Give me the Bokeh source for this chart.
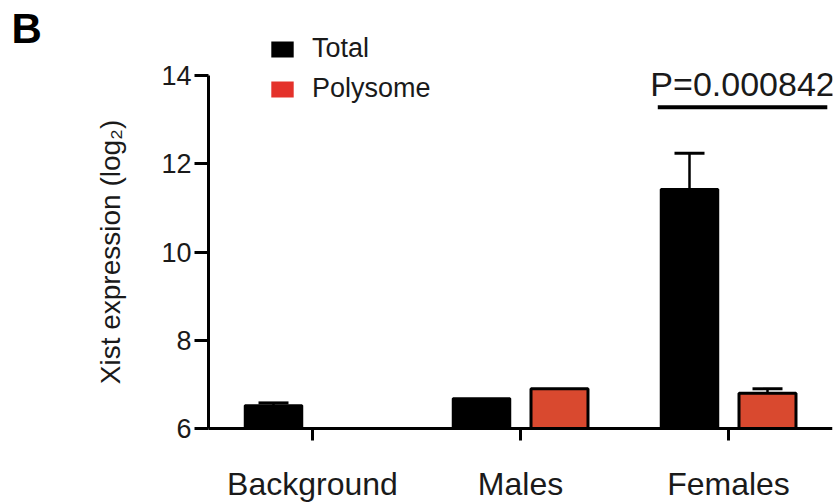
import math
from bokeh.plotting import figure
from bokeh.models import (ColumnDataSource, Range1d, FixedTicker,
                          Whisker, TeeHead, Legend, LegendItem, Label)
from bokeh.core.properties import value
from bokeh.transform import dodge
from bokeh.embed import file_html
from bokeh.resources import INLINE

# ---- data ----
categories = ["Background", "Males", "Females"]
series_names = ["Total", "Polysome"]
total_mean = [6.52, 6.68, 11.42]
total_err = [0.06, 0.0, 0.82]
polysome_mean = [float("nan"), 6.90, 6.80]
polysome_err = [float("nan"), 0.0, 0.10]
y_ticks = [6, 8, 10, 12, 14]
y_axis_title = "Xist expression (log\u2082)"
panel_letter = "B"
p_value_text = "P=0.000842"
p_value_y = 13.28
p_value_category = "Females"

# ---- styling / layout ----
FONT = "Liberation Sans"
TEXT = "#1a1a1a"
TOTAL_COLOR = "#000000"
POLY_COLOR = "#d9492f"
POLY_LEGEND = "#e4322b"
OFFSET = 0.1875
BAR_W = 0.274
Y_MIN, Y_MAX = 6, 14
X_MIN, X_MAX = -0.5, len(categories) - 0.5
H = 504
AXIS_Y_PX = 428          # pixel row of the x axis (value 6)
PX_PER_Y = 44.125
PX_PER_X = 208

xpos = list(range(len(categories)))

p = figure(width=835, height=H, output_backend="svg", toolbar_location=None,
           x_range=Range1d(X_MIN - 208 / PX_PER_X, X_MAX),
           y_range=Range1d(Y_MIN - (H - AXIS_Y_PX) / PX_PER_Y,
                           Y_MIN + AXIS_Y_PX / PX_PER_Y),
           min_border_left=0, min_border_right=3, min_border_top=0,
           min_border_bottom=0)
p.outline_line_color = None
p.grid.visible = False
p.background_fill_color = "white"
p.border_fill_color = "white"

src = ColumnDataSource(dict(x=xpos, cat=categories, total=total_mean,
                            poly=polysome_mean))

p.vbar(x=dodge("x", -OFFSET), top="total", bottom=Y_MIN,
       width=BAR_W, source=src, fill_color=TOTAL_COLOR, line_color="black",
       line_width=2.5)
p.vbar(x=dodge("x", OFFSET), top="poly", bottom=Y_MIN,
       width=BAR_W, source=src, fill_color=POLY_COLOR, line_color="black",
       line_width=3)

def whisker_source(means, errs):
    xs, lo, up = [], [], []
    for xv, m, e in zip(xpos, means, errs):
        if not math.isnan(m) and not math.isnan(e) and e > 0:
            xs.append(xv); lo.append(m); up.append(m + e)
    return ColumnDataSource(dict(x=xs, lower=lo, upper=up))

for means, errs, off in [(total_mean, total_err, -OFFSET),
                         (polysome_mean, polysome_err, OFFSET)]:
    ws = whisker_source(means, errs)
    w = Whisker(source=ws, base=dodge("x", off),
                lower="lower", upper="upper", line_width=2.5, line_color="black",
                upper_head=TeeHead(size=30, line_width=3, line_color="black"),
                lower_head=None)
    p.add_layout(w)

# legend swatches: zero-height bars that draw nothing in the plot
leg_t = p.vbar(x=[0], top=[Y_MIN], bottom=[Y_MIN], width=0,
               fill_color=TOTAL_COLOR, line_color=None)
leg_p = p.vbar(x=[0], top=[Y_MIN], bottom=[Y_MIN], width=0,
               fill_color=POLY_LEGEND, line_color=None)
legend = Legend(items=[LegendItem(label=series_names[0], renderers=[leg_t]),
                       LegendItem(label=series_names[1], renderers=[leg_p])],
                location=(268, H - 104), orientation="vertical",
                glyph_width=28, glyph_height=20, label_standoff=16, spacing=9,
                padding=0, margin=0, border_line_color=None,
                background_fill_alpha=0, label_text_font=FONT,
                label_text_font_size="27px", label_text_color=TEXT)
p.add_layout(legend)

# significance bracket
fi = categories.index(p_value_category)
bx0, bx1 = fi - 0.34, fi + 0.475
p.segment(x0=[bx0], y0=[p_value_y], x1=[bx1], y1=[p_value_y],
          line_color="black", line_width=4)
p.text(x=[(bx0 + bx1) / 2], y=[p_value_y + 23 / PX_PER_Y], text=[p_value_text],
       text_align="center", text_baseline="alphabetic",
       text_font=value(FONT), text_font_size="34px", text_color=TEXT)

# panel letter
p.add_layout(Label(x=11, y=H - 28, x_units="screen", y_units="screen",
                   text=panel_letter, text_font=FONT, text_font_style="bold",
                   text_font_size="42px", text_color="black",
                   text_baseline="alphabetic"))

# axes
for ax in (p.xaxis[0], p.yaxis[0]):
    ax.axis_line_width = 3
    ax.axis_line_color = "black"
    ax.major_tick_line_width = 3
    ax.major_tick_line_color = "black"
    ax.major_tick_in = 0
    ax.minor_tick_line_color = None
    ax.major_label_text_font = FONT
    ax.major_label_text_color = TEXT

p.yaxis.fixed_location = X_MIN
p.yaxis.bounds = (Y_MIN, Y_MAX)
p.yaxis.ticker = FixedTicker(ticks=y_ticks)
p.yaxis.major_tick_out = 14
p.yaxis.major_label_standoff = 3
p.yaxis.major_label_text_font_size = "27px"
p.yaxis.axis_label = y_axis_title
p.yaxis.axis_label_text_font = FONT
p.yaxis.axis_label_text_font_size = "28px"
p.yaxis.axis_label_text_font_style = "normal"
p.yaxis.axis_label_text_color = TEXT
p.yaxis.axis_label_standoff = 32

p.xaxis.fixed_location = Y_MIN
p.xaxis.bounds = (X_MIN, X_MAX)
p.xaxis.ticker = FixedTicker(ticks=xpos)
p.xaxis.major_label_overrides = {i: c for i, c in zip(xpos, categories)}
p.xaxis.major_tick_out = 12
p.xaxis.major_label_standoff = 25
p.xaxis.major_label_text_font_size = "32px"
p.xaxis.major_label_orientation = "horizontal"

open("out.html", "w").write(file_html(p, INLINE))
